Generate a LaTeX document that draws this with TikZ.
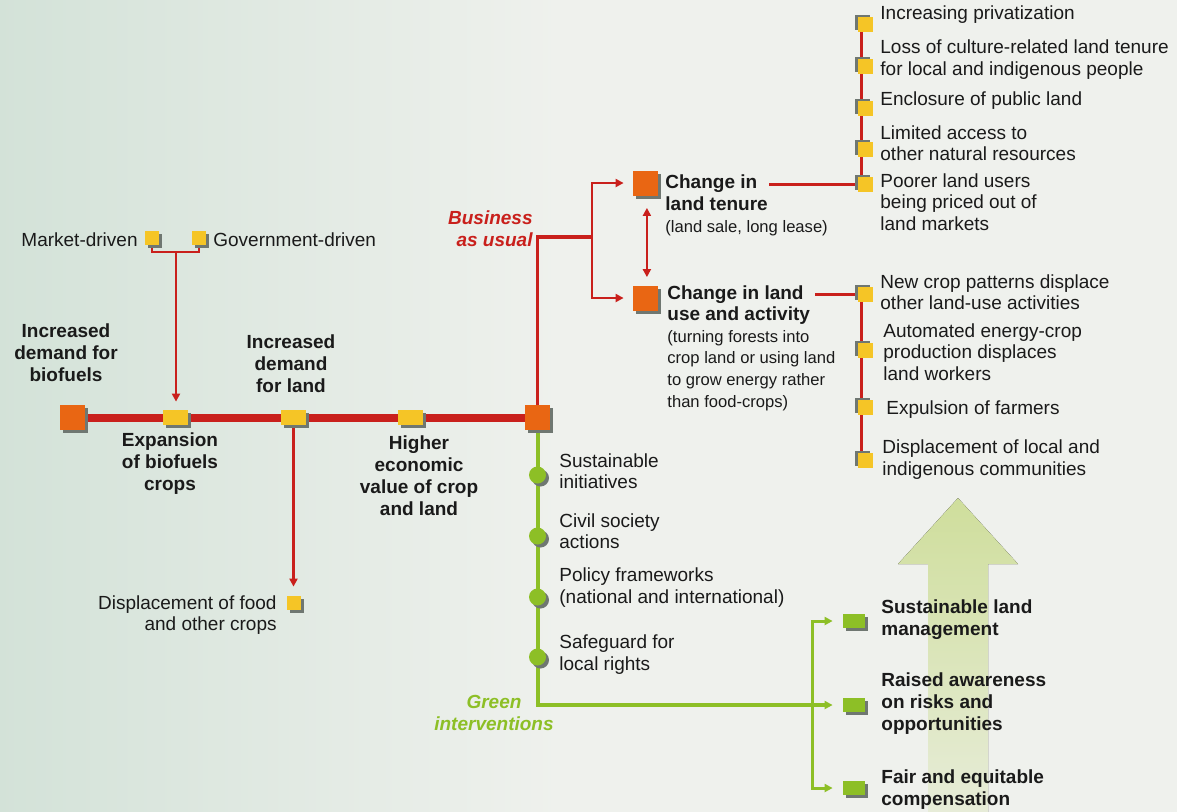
\documentclass[tikz,border=0pt]{standalone}
\usepackage{fontspec}
\setmainfont{Liberation Sans}
\usetikzlibrary{arrows.meta,shadows}

\definecolor{fred}{HTML}{C9201C}
\definecolor{forange}{HTML}{E96613}
\definecolor{fyellow}{HTML}{F5C526}
\definecolor{fgreen}{HTML}{8DBF26}
\definecolor{fgrey}{HTML}{6F7771}
\definecolor{bgleft}{HTML}{D3E2D8}
\definecolor{bgright}{HTML}{EFF1ED}
\definecolor{arrowgreen}{HTML}{CFDE9C}
\definecolor{ftext}{HTML}{1A1A1A}

\pgfdeclarelayer{background}
\pgfsetlayers{background,main}

\tikzset{
  shdw/.style={drop shadow={shadow xshift=1.5pt,shadow yshift=-1.5pt,fill=fgrey,opacity=1}},
  shdwl/.style={drop shadow={shadow xshift=-1.5pt,shadow yshift=1pt,fill=fgrey,opacity=1}},
  bigsq/.style={shdw,fill=forange,minimum size=12.5pt,inner sep=0pt},
  barsq/.style={shdw,fill=fyellow,minimum width=12.5pt,minimum height=7.5pt,inner sep=0pt},
  smallsq/.style={shdw,fill=fyellow,minimum size=7pt,inner sep=0pt},
  listsq/.style={shdwl,fill=fyellow,minimum size=7.5pt,inner sep=0pt},
  greensq/.style={shdw,fill=fgreen,minimum width=11pt,minimum height=7pt,inner sep=0pt},
  greendot/.style={shdw,circle,fill=fgreen,minimum size=8.5pt,inner sep=0pt},
  txt/.style={text=ftext,inner sep=0pt,align=left,font=\fontsize{9.5}{10.6}\selectfont},
  btxt/.style={txt,font=\fontsize{9.5}{11}\selectfont\bfseries},
  redline/.style={fred,line width=1.5pt},
  mainline/.style={fred,line width=4pt},
  greenline/.style={fgreen,line width=2pt},
  pointer/.style={-{Triangle[length=4pt,width=4pt]}},
}

\begin{document}
\begin{tikzpicture}[x=0.5pt,y=-0.5pt]
\useasboundingbox (0,0) rectangle (1177,811);

% main line
\node[bigsq] (biofuels) at (72.5,417.5) {};
\node[barsq] (expansion) at (175,417.5) {};
\node[barsq] (landdemand) at (293.5,417.5) {};
\node[barsq] (value) at (410.5,417.5) {};
\node[bigsq] (crossing) at (537.5,417.5) {};

\node[btxt,align=center] (t-biofuels) at (66,353) {Increased\\demand for\\biofuels};
\node[btxt,align=center] (t-landdemand) at (291,364) {Increased\\demand\\for land};
\node[btxt,align=center] (t-expansion) at (170,464) {Expansion\\of biofuels\\crops};
\node[btxt,align=center] (t-value) at (419,475.5) {Higher\\economic\\value of crop\\and land};

% drivers and food crops
\node[smallsq] (market) at (152,238) {};
\node[smallsq] (government) at (199,238) {};
\coordinate (drivers) at (176,252);
\node[txt,anchor=east] (t-market) at (138,240) {Market-driven};
\node[txt,anchor=west] (t-government) at (213,240) {Government-driven};
\node[smallsq] (food) at (293.5,603) {};
\node[txt,anchor=east,align=right] (t-food) at (277,615) {Displacement of food\\and other crops};

% business as usual
\coordinate (bau) at (592,237);
\node[btxt,anchor=east,align=right,text=fred,font=\fontsize{9.5}{11}\selectfont\bfseries\itshape] (t-bau) at (533,229) {Business\\as usual};
\node[bigsq] (tenure) at (645.5,183) {};
\node[bigsq] (landuse) at (645.5,298) {};
\node[txt,anchor=west,font=\fontsize{9.5}{11}\selectfont] (t-tenure) at (665,205)
  {\textbf{Change in}\\\textbf{land tenure}\\{\fontsize{8.3}{11}\selectfont(land sale, long lease)}};
\node[txt,anchor=west,font=\fontsize{9.5}{10.8}\selectfont] (t-landuse) at (667,348)
  {\textbf{Change in land}\\\textbf{use and activity}\\{\fontsize{8.3}{10.8}\selectfont(turning forests into}\\
   {\fontsize{8.3}{10.8}\selectfont crop land or using land}\\{\fontsize{8.3}{10.8}\selectfont to grow energy rather}\\
   {\fontsize{8.3}{10.8}\selectfont than food-crops)}};
\coordinate (tenureout) at (769,184);
\coordinate (landuseout) at (815,294);

% land tenure effects
\node[listsq] (priv) at (865.5,24) {};
\node[listsq] (culture) at (865.5,66) {};
\node[listsq] (enclosure) at (865.5,108) {};
\node[listsq] (access) at (865.5,149) {};
\node[listsq] (priced) at (865.5,184) {};
\node[txt,anchor=west] (t-priv) at (880,15) {Increasing privatization};
\node[txt,anchor=west] (t-culture) at (880,59.5) {Loss of culture-related land tenure\\for local and indigenous people};
\node[txt,anchor=west] (t-enclosure) at (880,101) {Enclosure of public land};
\node[txt,anchor=west] (t-access) at (880,143.5) {Limited access to\\other natural resources};
\node[txt,anchor=west] (t-priced) at (880,202) {Poorer land users\\being priced out of\\land markets};

% land use effects
\node[listsq] (patterns) at (865.5,294) {};
\node[listsq] (automated) at (865.5,350) {};
\node[listsq] (expulsion) at (865.5,407) {};
\node[listsq] (communities) at (865.5,460) {};
\node[txt,anchor=west] (t-patterns) at (880,292.5) {New crop patterns displace\\other land-use activities};
\node[txt,anchor=west] (t-automated) at (883,352) {Automated energy-crop\\production displaces\\land workers};
\node[txt,anchor=west] (t-expulsion) at (886,410) {Expulsion of farmers};
\node[txt,anchor=west] (t-communities) at (882,459.5) {Displacement of local and\\indigenous communities};

% green interventions
\node[greendot] (initiatives) at (537.5,475) {};
\node[greendot] (civil) at (537.5,536) {};
\node[greendot] (policy) at (537.5,597) {};
\node[greendot] (safeguard) at (537.5,657) {};
\node[txt,anchor=west] (t-initiatives) at (559,471.5) {Sustainable\\initiatives};
\node[txt,anchor=west] (t-civil) at (559,531) {Civil society\\actions};
\node[txt,anchor=west] (t-policy) at (559,587.5) {Policy frameworks\\(national and international)};
\node[txt,anchor=west] (t-safeguard) at (559,654.5) {Safeguard for\\local rights};
\node[btxt,align=center,text=fgreen,font=\fontsize{9.5}{11}\selectfont\bfseries\itshape] (t-green) at (494,713) {Green\\interventions};

\coordinate (greenfork) at (812,705);
\node[greensq] (landmgmt) at (854,621) {};
\node[greensq] (awareness) at (854,705) {};
\node[greensq] (compensation) at (854,788) {};
\node[btxt,anchor=west] (t-landmgmt) at (881,620) {Sustainable land\\management};
\node[btxt,anchor=west] (t-awareness) at (881,703.5) {Raised awareness\\on risks and\\opportunities};
\node[btxt,anchor=west] (t-compensation) at (881,789.5) {Fair and equitable\\compensation};

\begin{pgfonlayer}{background}
  \fill[left color=bgleft,right color=bgright] (-5,-5) rectangle (561,816);
  \fill[bgright] (560,-5) rectangle (1182,816);
  \fill[top color=arrowgreen,bottom color=arrowgreen!25!bgright]
    (958,498) -- (1018,564) -- (988,564) -- (988,816) -- (928,816) -- (928,564) -- (898,564) -- cycle;

  \draw[mainline] (biofuels) -- (crossing);
  \draw[redline,line width=1.1pt] (market) |- (drivers) -| (government);
  \draw[redline,line width=1.2pt,pointer,shorten >=4pt] (drivers) -- (drivers |- expansion.north);
  \draw[redline,line width=1.2pt,pointer,shorten >=4.5pt] (landdemand) -- (food);

  \draw[redline,line width=1.7pt] (crossing) |- (bau);
  \draw[redline,line width=1.2pt,pointer,shorten >=4.5pt] (bau) |- (tenure);
  \draw[redline,line width=1.2pt,pointer,shorten >=4.5pt] (bau) |- (landuse);
  \draw[redline,line width=1.2pt,{Triangle[length=4pt,width=4pt]}-{Triangle[length=4pt,width=4pt]},
    shorten <=6pt,shorten >=4pt] ([xshift=0.7pt]tenure.south) -- ([xshift=0.7pt]landuse.north);

  \draw[redline] (tenureout) -- (priced);
  \draw[redline] ([xshift=-2pt]priv.center) -- ([xshift=-2pt]priced.center);
  \draw[redline] (landuseout) -- (patterns);
  \draw[redline] ([xshift=-2pt]patterns.center) -- ([xshift=-2pt]communities.center);

  \draw[greenline,pointer,shorten >=5pt] (crossing) |- (awareness);
  \draw[greenline,line width=1.5pt,pointer,shorten >=5pt] (greenfork) |- (landmgmt);
  \draw[greenline,line width=1.5pt,pointer,shorten >=5pt] (greenfork) |- (compensation);
\end{pgfonlayer}
\end{tikzpicture}
\end{document}
